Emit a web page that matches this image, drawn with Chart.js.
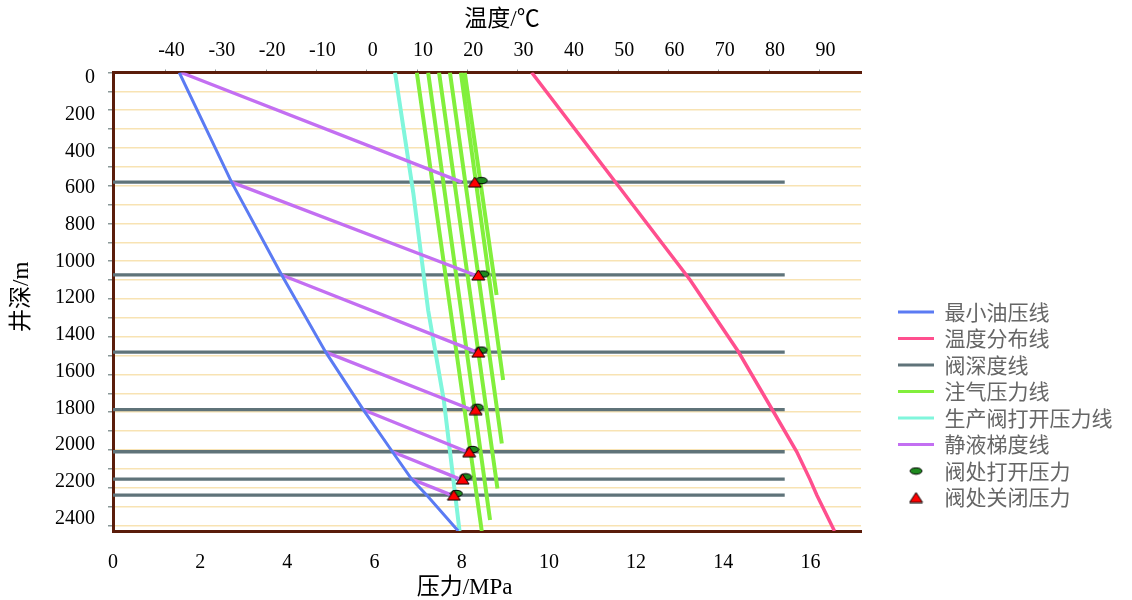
<!DOCTYPE html>
<html>
<head>
<meta charset="utf-8">
<script src="https://cdn.jsdelivr.net/npm/chart.js@4.4.1/dist/chart.umd.min.js"></script>
<style>
html,body{margin:0;padding:0;background:#ffffff;}
#wrap{width:1132px;height:600px;}
</style>
</head>
<body>
<div id="wrap"><canvas id="c" width="1132" height="600"></canvas></div>
<script>
// ---------- tick labels ----------
const depthTicks = [0, 200, 400, 600, 800, 1000, 1200, 1400, 1600, 1800, 2000, 2200, 2400];
const gridDepths = [0, 100, 200, 300, 400, 500, 600, 700, 800, 900, 1000, 1100, 1200, 1300, 1400, 1500, 1600, 1700, 1800, 1900, 2000, 2100, 2200, 2300, 2400];
const pressureTicks = [0, 2, 4, 6, 8, 10, 12, 14, 16];
const tempTicks = [-40, -30, -20, -10, 0, 10, 20, 30, 40, 50, 60, 70, 80, 90];

// ---------- series ----------
// 最小油压线 (MPa vs depth m)
const oilDepth    = [0, 581, 1073, 1482, 1787, 2010, 2155, 2240, 2430];
const oilPressure = [1.52, 2.72, 3.87, 4.88, 5.74, 6.41, 6.85, 7.20, 7.92];

// 温度分布线 (°C vs depth m)
const tempDepth = [0, 600, 1100, 1480, 1790, 2010, 2155, 2240, 2430];
const tempValue = [32.8, 50.0, 64.3, 73.9, 80.7, 85.5, 88.1, 89.5, 93.0];

// 阀深度线
const valveDepth = [581, 1073, 1482, 1787, 2010, 2155, 2240];
const valveLineP = [0, 15.41];

// 注气压力线 (six straight lines)
const injStartP    = [6.97, 7.23, 7.48, 7.73, 7.98, 8.07];
const injEndP      = [8.46, 8.65, 8.82, 8.92, 8.95, 8.80];
const injEndDepth  = [2430, 2372, 2205, 1966, 1630, 1179];

// 生产阀打开压力线
const prodDepth    = [0, 640, 1260, 1739, 2430];
const prodPressure = [6.47, 6.89, 7.23, 7.59, 7.95];

// 静液梯度线 (segments)
const staticStartDepth = [0, 581, 1073, 1482, 1787, 2010, 2155];
const staticStartP     = [1.56, 2.72, 3.87, 4.88, 5.74, 6.41, 6.85];
const staticEndP       = [8.00, 8.30, 8.35, 8.23, 8.12, 7.96, 7.77];

// 阀处打开压力 / 阀处关闭压力
const openP     = [8.45, 8.49, 8.45, 8.36, 8.25, 8.09, 7.88];
const openDepth = [573, 1068, 1471, 1774, 1998, 2143, 2231];
const closeP    = [8.30, 8.38, 8.38, 8.32, 8.17, 8.02, 7.82];

// ---------- styles ----------
const BORDER = '#5a1c0a';
const GRID = '#f8e3b3';
const TICKC = '#8a9898';
const FAMILY = "'Liberation Serif','Noto Sans CJK SC'";
const CJK = "'Noto Sans CJK SC'";
const tickFont = {family: "'Liberation Serif'", size: 20};

function makeTriangle() {
  const c = document.createElement('canvas');
  c.width = 15; c.height = 12;
  const g = c.getContext('2d');
  g.beginPath(); g.moveTo(7.5, 1); g.lineTo(14, 11); g.lineTo(1, 11); g.closePath();
  g.fillStyle = '#ff0000'; g.fill();
  g.lineWidth = 1; g.strokeStyle = '#000000'; g.stroke();
  return c;
}
function makeEllipse() {
  const c = document.createElement('canvas');
  c.width = 14; c.height = 9;
  const g = c.getContext('2d');
  g.beginPath(); g.ellipse(7, 4.5, 6, 3.2, 0, 0, Math.PI * 2);
  g.fillStyle = '#1f8a1f'; g.fill();
  g.lineWidth = 1; g.strokeStyle = '#000000'; g.stroke();
  return c;
}
const triImg = makeTriangle();
const ellImg = makeEllipse();

const gap = {x: null, y: null};
const oilData = oilDepth.map((d, i) => ({x: oilPressure[i], y: d}));
const tempData = tempDepth.map((d, i) => ({x: tempValue[i], y: d}));
const valveData = valveDepth.flatMap(d => [{x: valveLineP[0], y: d}, {x: valveLineP[1], y: d}, gap]);
const injData = injStartP.flatMap((p, i) => [{x: p, y: 0}, {x: injEndP[i], y: injEndDepth[i]}, gap]);
const prodData = prodDepth.map((d, i) => ({x: prodPressure[i], y: d}));
const staticData = staticStartP.flatMap((p, i) => [{x: p, y: staticStartDepth[i]}, {x: staticEndP[i], y: valveDepth[i]}, gap]);
const openData = openP.map((p, i) => ({x: p, y: openDepth[i]}));
const closeData = closeP.map((p, i) => ({x: p, y: valveDepth[i]}));

function lineSet(label, data, color, width, order, xAxis) {
  return {label, data, showLine: true, borderColor: color, backgroundColor: color,
    borderWidth: width, pointRadius: 0, spanGaps: false, order,
    xAxisID: xAxis || 'x', yAxisID: 'y', tension: 0};
}

const datasets = [
  lineSet('最小油压线', oilData, '#5b7bf3', 3, 0),
  lineSet('温度分布线', tempData, '#ff4f8e', 3.5, 0, 'xt'),
  lineSet('阀深度线', valveData, '#5f7379', 3.3, 2),
  lineSet('注气压力线', injData, '#82ef3c', 4, 1),
  lineSet('生产阀打开压力线', prodData, '#80f6dc', 4, 1),
  lineSet('静液梯度线', staticData, '#c36ff2', 3.3, 0),
  {label: '阀处打开压力', data: openData, showLine: false, pointStyle: ellImg, pointRadius: 6,
    borderColor: '#1f8a1f', backgroundColor: '#1f8a1f', order: -1, xAxisID: 'x', yAxisID: 'y'},
  {label: '阀处关闭压力', data: closeData, showLine: false, pointStyle: triImg, pointRadius: 6,
    borderColor: '#ff0000', backgroundColor: '#ff0000', order: -2, xAxisID: 'x', yAxisID: 'y'}
];

const axisTitles = {
  id: 'axisTitles',
  afterDraw(chart) {
    const ctx = chart.ctx, a = chart.chartArea, w = a.right - a.left;
    ctx.save();
    ctx.fillStyle = '#000';
    ctx.font = '23px ' + FAMILY;
    ctx.textAlign = 'center';
    ctx.textBaseline = 'middle';
    ctx.fillText('温度/℃', a.left + 0.52 * w, a.top - 52.5);
    ctx.fillText('压力/MPa', a.left + 0.47 * w, a.bottom + 57);
    ctx.translate(22, (a.top + a.bottom) / 2 - 5);
    ctx.rotate(-Math.PI / 2);
    ctx.fillText('井深/m', 0, 0);
    ctx.restore();
  }
};

const plain = v => String(v);

const chart = new Chart(document.getElementById('c'), {
  type: 'scatter',
  data: {datasets},
  options: {
    responsive: false,
    animation: false,
    events: [],
    layout: {padding: {right: 9.5}},
    scales: {
      x: {
        type: 'linear', position: 'bottom', min: 0, max: 17.16,
        grid: {display: false},
        border: {display: true, color: BORDER, width: 3},
        ticks: {padding: 12, font: tickFont, color: '#000', maxRotation: 0, autoSkip: false, callback: plain},
        afterBuildTicks: s => { s.ticks = pressureTicks.map(v => ({value: v})); },
        afterFit: s => { s.height = 69; }
      },
      xt: {
        type: 'linear', position: 'top', min: -50.44, max: 98.27,
        grid: {display: true, drawOnChartArea: false, drawTicks: true, tickLength: 3, tickColor: TICKC, tickWidth: 1},
        border: {display: true, color: BORDER, width: 3},
        ticks: {padding: 7, labelOffset: 6, font: tickFont, color: '#000', maxRotation: 0, autoSkip: false, callback: plain},
        afterBuildTicks: s => { s.ticks = tempTicks.map(v => ({value: v})); },
        afterFit: s => { s.height = 72.5; }
      },
      y: {
        type: 'linear', position: 'left', reverse: true, min: 0, max: 2430, weight: 0,
        grid: {display: true, drawOnChartArea: true, color: c => (c.tick && c.tick.value === 0) ? 'rgba(0,0,0,0)' : GRID,
          lineWidth: 1.5, drawTicks: true, tickLength: 5, tickColor: TICKC, tickWidth: 1.5},
        border: {display: true, color: BORDER, width: 3},
        ticks: {display: false},
        afterBuildTicks: s => { s.ticks = gridDepths.map(v => ({value: v})); },
        afterFit: s => { s.width = 5; }
      },
      yl: {
        type: 'linear', position: 'left', reverse: true, min: -30.5, max: 2469, weight: 1,
        grid: {display: false, drawTicks: false},
        border: {display: false},
        ticks: {padding: 13, font: tickFont, color: '#000', autoSkip: false, callback: plain},
        afterBuildTicks: s => { s.ticks = depthTicks.map(v => ({value: v})); },
        afterFit: s => { s.width = 108; }
      },
      yr: {
        type: 'linear', position: 'right', weight: 0,
        grid: {display: false, drawTicks: false},
        border: {display: false},
        ticks: {display: false},
        afterFit: s => { s.width = 31.5; }
      }
    },
    plugins: {
      tooltip: {enabled: false},
      legend: {
        position: 'right',
        align: 'start',
        maxWidth: 400,
        title: {display: true, text: '', padding: {top: 284, bottom: 0}, font: {size: 10}},
        labels: {
          usePointStyle: true,
          pointStyleWidth: 36,
          padding: 5.5,
          color: '#000',
          font: {family: CJK, size: 21},
          generateLabels: chart => chart.data.datasets.map((ds, i) => ({
            text: ds.label,
            fillStyle: ds.showLine ? ds.borderColor : 'rgba(0,0,0,0)',
            strokeStyle: ds.borderColor,
            lineWidth: ds.showLine ? 3 : 0,
            pointStyle: ds.showLine ? 'line' : ds.pointStyle,
            hidden: false,
            datasetIndex: i
          }))
        }
      }
    }
  },
  plugins: [axisTitles]
});
if (document.fonts && document.fonts.ready) {
  document.fonts.ready.then(() => chart.update());
}
</script>
</body>
</html>
